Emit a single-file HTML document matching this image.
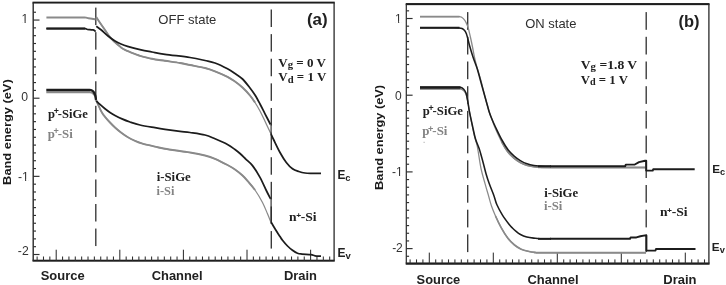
<!DOCTYPE html>
<html><head><meta charset="utf-8"><title>Band energy diagrams</title>
<style>
html,body{margin:0;padding:0;background:#fff;}
body{width:726px;height:285px;overflow:hidden;font-family:"Liberation Sans",sans-serif;}
svg{display:block;filter:grayscale(1) blur(0.4px);}
</style></head><body>
<svg width="726" height="285" viewBox="0 0 726 285">
<rect x="0" y="0" width="726" height="285" fill="#ffffff"/>
<rect x="32.50" y="1.65" width="302.25" height="1.90" fill="#1e1e1e"/>
<rect x="32.50" y="259.70" width="302.25" height="2.00" fill="#1e1e1e"/>
<rect x="32.50" y="2.60" width="1.40" height="258.10" fill="#2a2a2a"/>
<rect x="333.45" y="2.60" width="1.30" height="258.10" fill="#2a2a2a"/>
<rect x="33.20" y="11.66" width="2.80" height="1.15" fill="#303030"/>
<rect x="33.20" y="19.48" width="6.30" height="1.15" fill="#303030"/>
<rect x="33.20" y="27.30" width="2.80" height="1.15" fill="#303030"/>
<rect x="33.20" y="35.11" width="2.80" height="1.15" fill="#303030"/>
<rect x="33.20" y="42.93" width="2.80" height="1.15" fill="#303030"/>
<rect x="33.20" y="50.74" width="2.80" height="1.15" fill="#303030"/>
<rect x="33.20" y="58.55" width="2.80" height="1.15" fill="#303030"/>
<rect x="33.20" y="66.37" width="2.80" height="1.15" fill="#303030"/>
<rect x="33.20" y="74.19" width="2.80" height="1.15" fill="#303030"/>
<rect x="33.20" y="82.00" width="2.80" height="1.15" fill="#303030"/>
<rect x="33.20" y="89.82" width="2.80" height="1.15" fill="#303030"/>
<rect x="33.20" y="97.63" width="6.30" height="1.15" fill="#303030"/>
<rect x="33.20" y="105.45" width="2.80" height="1.15" fill="#303030"/>
<rect x="33.20" y="113.26" width="2.80" height="1.15" fill="#303030"/>
<rect x="33.20" y="121.08" width="2.80" height="1.15" fill="#303030"/>
<rect x="33.20" y="128.89" width="2.80" height="1.15" fill="#303030"/>
<rect x="33.20" y="136.71" width="2.80" height="1.15" fill="#303030"/>
<rect x="33.20" y="144.52" width="2.80" height="1.15" fill="#303030"/>
<rect x="33.20" y="152.34" width="2.80" height="1.15" fill="#303030"/>
<rect x="33.20" y="160.15" width="2.80" height="1.15" fill="#303030"/>
<rect x="33.20" y="167.97" width="2.80" height="1.15" fill="#303030"/>
<rect x="33.20" y="175.78" width="6.30" height="1.15" fill="#303030"/>
<rect x="33.20" y="183.60" width="2.80" height="1.15" fill="#303030"/>
<rect x="33.20" y="191.41" width="2.80" height="1.15" fill="#303030"/>
<rect x="33.20" y="199.23" width="2.80" height="1.15" fill="#303030"/>
<rect x="33.20" y="207.04" width="2.80" height="1.15" fill="#303030"/>
<rect x="33.20" y="214.86" width="2.80" height="1.15" fill="#303030"/>
<rect x="33.20" y="222.67" width="2.80" height="1.15" fill="#303030"/>
<rect x="33.20" y="230.49" width="2.80" height="1.15" fill="#303030"/>
<rect x="33.20" y="238.30" width="2.80" height="1.15" fill="#303030"/>
<rect x="33.20" y="246.12" width="2.80" height="1.15" fill="#303030"/>
<rect x="33.20" y="253.93" width="6.30" height="1.15" fill="#303030"/>
<rect x="36.60" y="256.50" width="1.05" height="4.20" fill="#303030"/>
<rect x="42.96" y="256.50" width="1.05" height="4.20" fill="#303030"/>
<rect x="49.32" y="256.50" width="1.05" height="4.20" fill="#303030"/>
<rect x="55.68" y="249.70" width="1.05" height="11.00" fill="#303030"/>
<rect x="62.04" y="256.50" width="1.05" height="4.20" fill="#303030"/>
<rect x="68.40" y="256.50" width="1.05" height="4.20" fill="#303030"/>
<rect x="74.76" y="256.50" width="1.05" height="4.20" fill="#303030"/>
<rect x="81.12" y="256.50" width="1.05" height="4.20" fill="#303030"/>
<rect x="87.48" y="256.50" width="1.05" height="4.20" fill="#303030"/>
<rect x="93.84" y="256.50" width="1.05" height="4.20" fill="#303030"/>
<rect x="100.20" y="256.50" width="1.05" height="4.20" fill="#303030"/>
<rect x="106.56" y="256.50" width="1.05" height="4.20" fill="#303030"/>
<rect x="112.92" y="256.50" width="1.05" height="4.20" fill="#303030"/>
<rect x="119.28" y="249.70" width="1.05" height="11.00" fill="#303030"/>
<rect x="125.64" y="256.50" width="1.05" height="4.20" fill="#303030"/>
<rect x="132.00" y="256.50" width="1.05" height="4.20" fill="#303030"/>
<rect x="138.36" y="256.50" width="1.05" height="4.20" fill="#303030"/>
<rect x="144.72" y="256.50" width="1.05" height="4.20" fill="#303030"/>
<rect x="151.08" y="256.50" width="1.05" height="4.20" fill="#303030"/>
<rect x="157.44" y="256.50" width="1.05" height="4.20" fill="#303030"/>
<rect x="163.80" y="256.50" width="1.05" height="4.20" fill="#303030"/>
<rect x="170.16" y="256.50" width="1.05" height="4.20" fill="#303030"/>
<rect x="176.52" y="256.50" width="1.05" height="4.20" fill="#303030"/>
<rect x="182.88" y="249.70" width="1.05" height="11.00" fill="#303030"/>
<rect x="189.24" y="256.50" width="1.05" height="4.20" fill="#303030"/>
<rect x="195.60" y="256.50" width="1.05" height="4.20" fill="#303030"/>
<rect x="201.96" y="256.50" width="1.05" height="4.20" fill="#303030"/>
<rect x="208.32" y="256.50" width="1.05" height="4.20" fill="#303030"/>
<rect x="214.68" y="256.50" width="1.05" height="4.20" fill="#303030"/>
<rect x="221.04" y="256.50" width="1.05" height="4.20" fill="#303030"/>
<rect x="227.40" y="256.50" width="1.05" height="4.20" fill="#303030"/>
<rect x="233.76" y="256.50" width="1.05" height="4.20" fill="#303030"/>
<rect x="240.12" y="256.50" width="1.05" height="4.20" fill="#303030"/>
<rect x="246.48" y="249.70" width="1.05" height="11.00" fill="#303030"/>
<rect x="252.84" y="256.50" width="1.05" height="4.20" fill="#303030"/>
<rect x="259.20" y="256.50" width="1.05" height="4.20" fill="#303030"/>
<rect x="265.56" y="256.50" width="1.05" height="4.20" fill="#303030"/>
<rect x="271.92" y="256.50" width="1.05" height="4.20" fill="#303030"/>
<rect x="278.28" y="256.50" width="1.05" height="4.20" fill="#303030"/>
<rect x="284.64" y="256.50" width="1.05" height="4.20" fill="#303030"/>
<rect x="291.00" y="256.50" width="1.05" height="4.20" fill="#303030"/>
<rect x="297.36" y="256.50" width="1.05" height="4.20" fill="#303030"/>
<rect x="303.72" y="256.50" width="1.05" height="4.20" fill="#303030"/>
<rect x="310.08" y="249.70" width="1.05" height="11.00" fill="#303030"/>
<rect x="316.44" y="256.50" width="1.05" height="4.20" fill="#303030"/>
<rect x="322.80" y="256.50" width="1.05" height="4.20" fill="#303030"/>
<rect x="329.16" y="256.50" width="1.05" height="4.20" fill="#303030"/>
<rect x="95.12" y="7.60" width="1.35" height="17.50" fill="#363636"/>
<rect x="95.12" y="32.15" width="1.35" height="17.50" fill="#363636"/>
<rect x="95.12" y="56.70" width="1.35" height="17.50" fill="#363636"/>
<rect x="95.12" y="81.25" width="1.35" height="17.50" fill="#363636"/>
<rect x="95.12" y="105.80" width="1.35" height="17.50" fill="#363636"/>
<rect x="95.12" y="130.35" width="1.35" height="17.50" fill="#363636"/>
<rect x="95.12" y="154.90" width="1.35" height="17.50" fill="#363636"/>
<rect x="95.12" y="179.45" width="1.35" height="17.50" fill="#363636"/>
<rect x="95.12" y="204.00" width="1.35" height="17.50" fill="#363636"/>
<rect x="95.12" y="228.55" width="1.35" height="17.50" fill="#363636"/>
<rect x="270.62" y="9.50" width="1.35" height="17.50" fill="#363636"/>
<rect x="270.62" y="34.12" width="1.35" height="17.50" fill="#363636"/>
<rect x="270.62" y="58.74" width="1.35" height="17.50" fill="#363636"/>
<rect x="270.62" y="83.36" width="1.35" height="17.50" fill="#363636"/>
<rect x="270.62" y="107.98" width="1.35" height="17.50" fill="#363636"/>
<rect x="270.62" y="132.60" width="1.35" height="17.50" fill="#363636"/>
<rect x="270.62" y="157.22" width="1.35" height="17.50" fill="#363636"/>
<rect x="270.62" y="181.84" width="1.35" height="17.50" fill="#363636"/>
<rect x="270.62" y="206.46" width="1.35" height="17.50" fill="#363636"/>
<rect x="270.62" y="231.08" width="1.35" height="17.50" fill="#363636"/>
<path d="M46.40,17.50 C52.00,17.50 73.73,17.50 80.00,17.50 C86.27,17.50 83.00,17.48 84.00,17.50 C85.00,17.52 85.25,17.47 86.00,17.60 C86.75,17.73 87.50,18.12 88.50,18.30 C89.50,18.48 90.82,18.52 92.00,18.70 C93.18,18.88 95.00,19.28 95.60,19.40" fill="none" stroke="#8a8a8a" stroke-width="1.90" stroke-linejoin="round" stroke-linecap="butt" />
<path d="M96.20,17.00 C96.83,17.97 98.53,20.63 100.00,22.80 C101.47,24.97 103.33,27.60 105.00,30.00 C106.67,32.40 108.33,35.15 110.00,37.20 C111.67,39.25 113.33,40.73 115.00,42.30 C116.67,43.87 118.33,45.35 120.00,46.60 C121.67,47.85 122.37,48.52 125.00,49.80 C127.63,51.08 133.30,53.30 135.80,54.30 C138.30,55.30 137.30,55.05 140.00,55.80 C142.70,56.55 147.83,57.97 152.00,58.80 C156.17,59.63 160.33,60.10 165.00,60.80 C169.67,61.50 175.83,62.30 180.00,63.00 C184.17,63.70 185.83,64.17 190.00,65.00 C194.17,65.83 200.83,66.95 205.00,68.00 C209.17,69.05 211.25,69.83 215.00,71.30 C218.75,72.77 224.17,75.10 227.50,76.80 C230.83,78.50 232.50,79.72 235.00,81.50 C237.50,83.28 240.00,85.17 242.50,87.50 C245.00,89.83 247.92,93.00 250.00,95.50 C252.08,98.00 253.33,99.92 255.00,102.50 C256.67,105.08 258.33,107.87 260.00,111.00 C261.67,114.13 263.42,118.00 265.00,121.30 C266.58,124.60 268.50,128.68 269.50,130.80 C270.50,132.92 270.75,133.47 271.00,134.00" fill="none" stroke="#8a8a8a" stroke-width="1.30" stroke-linejoin="round" stroke-linecap="butt" />
<path d="M96.20,17.00 C96.83,17.97 98.53,20.63 100.00,22.80 C101.47,24.97 103.33,27.60 105.00,30.00 C106.67,32.40 108.33,35.15 110.00,37.20 C111.67,39.25 113.33,40.73 115.00,42.30 C116.67,43.87 118.33,45.35 120.00,46.60 C121.67,47.85 122.37,48.52 125.00,49.80 C127.63,51.08 133.30,53.30 135.80,54.30 C138.30,55.30 137.30,55.05 140.00,55.80 C142.70,56.55 147.83,57.97 152.00,58.80 C156.17,59.63 160.33,60.10 165.00,60.80 C169.67,61.50 175.83,62.30 180.00,63.00 C184.17,63.70 185.83,64.17 190.00,65.00 C194.17,65.83 200.83,66.95 205.00,68.00 C209.17,69.05 211.25,69.83 215.00,71.30 C218.75,72.77 224.17,75.10 227.50,76.80 C230.83,78.50 232.50,79.72 235.00,81.50 C237.50,83.28 240.00,85.17 242.50,87.50 C245.00,89.83 247.92,93.00 250.00,95.50 C252.08,98.00 253.33,99.92 255.00,102.50" fill="none" stroke="#8a8a8a" stroke-width="1.90" stroke-linejoin="round" stroke-linecap="butt" />
<path d="M46.40,28.50 C52.00,28.50 73.73,28.50 80.00,28.50 C86.27,28.50 83.08,28.47 84.00,28.50 C84.92,28.53 84.92,28.53 85.50,28.70 C86.08,28.87 86.75,29.33 87.50,29.50 C88.25,29.67 89.08,29.63 90.00,29.70 C90.92,29.77 92.25,29.77 93.00,29.90 C93.75,30.03 94.07,30.22 94.50,30.50 C94.93,30.78 95.42,31.42 95.60,31.60" fill="none" stroke="#1c1c1c" stroke-width="1.75" stroke-linejoin="round" stroke-linecap="butt" />
<path d="M46.40,28.50 L85.00,28.50" fill="none" stroke="#1c1c1c" stroke-width="2.15" stroke-linejoin="round" stroke-linecap="butt" />
<path d="M96.30,26.30 C97.13,26.92 99.35,28.38 101.30,30.00 C103.25,31.62 105.72,34.17 108.00,36.00 C110.28,37.83 112.83,39.67 115.00,41.00 C117.17,42.33 118.92,43.12 121.00,44.00 C123.08,44.88 124.33,45.37 127.50,46.30 C130.67,47.23 135.92,48.65 140.00,49.60 C144.08,50.55 147.83,51.22 152.00,52.00 C156.17,52.78 158.67,53.38 165.00,54.30 C171.33,55.22 183.33,56.47 190.00,57.50 C196.67,58.53 200.83,59.58 205.00,60.50 C209.17,61.42 211.25,61.62 215.00,63.00 C218.75,64.38 224.17,67.05 227.50,68.80 C230.83,70.55 232.50,71.80 235.00,73.50 C237.50,75.20 240.00,76.58 242.50,79.00 C245.00,81.42 247.92,85.33 250.00,88.00 C252.08,90.67 253.33,92.33 255.00,95.00 C256.67,97.67 258.33,100.87 260.00,104.00 C261.67,107.13 263.25,110.38 265.00,113.80 C266.75,117.22 269.58,122.72 270.50,124.50" fill="none" stroke="#1c1c1c" stroke-width="1.75" stroke-linejoin="round" stroke-linecap="butt" />
<path d="M271.10,124.50 L271.10,134.00" fill="none" stroke="#2a2a2a" stroke-width="1.15" stroke-linejoin="round" stroke-linecap="butt" />
<path d="M271.00,134.00 C271.47,135.00 272.30,136.92 273.80,140.00 C275.30,143.08 277.92,148.75 280.00,152.50 C282.08,156.25 284.22,159.78 286.30,162.50 C288.38,165.22 290.42,167.30 292.50,168.80 C294.58,170.30 296.72,170.80 298.80,171.50 C300.88,172.20 302.80,172.70 305.00,173.00 C307.20,173.30 309.33,173.25 312.00,173.30 C314.67,173.35 319.50,173.30 321.00,173.30" fill="none" stroke="#1c1c1c" stroke-width="1.75" stroke-linejoin="round" stroke-linecap="butt" />
<path d="M46.30,92.20 C52.75,92.20 77.72,92.17 85.00,92.20 C92.28,92.23 88.67,92.18 90.00,92.40 C91.33,92.62 92.08,92.73 93.00,93.50 C93.92,94.27 95.00,95.92 95.50,97.00 C96.00,98.08 95.92,99.50 96.00,100.00" fill="none" stroke="#8a8a8a" stroke-width="1.90" stroke-linejoin="round" stroke-linecap="butt" />
<path d="M96.00,100.00 C96.67,101.47 98.92,106.55 100.00,108.80 C101.08,111.05 101.67,112.17 102.50,113.50 C103.33,114.83 103.75,115.30 105.00,116.80 C106.25,118.30 108.33,120.72 110.00,122.50 C111.67,124.28 113.17,125.83 115.00,127.50 C116.83,129.17 118.92,130.92 121.00,132.50 C123.08,134.08 125.17,135.62 127.50,137.00 C129.83,138.38 132.50,139.70 135.00,140.80 C137.50,141.90 139.17,142.63 142.50,143.60 C145.83,144.57 151.25,145.73 155.00,146.60 C158.75,147.47 159.17,147.82 165.00,148.80 C170.83,149.78 183.33,151.38 190.00,152.50 C196.67,153.62 200.83,154.45 205.00,155.50 C209.17,156.55 211.25,157.22 215.00,158.80 C218.75,160.38 224.17,163.22 227.50,165.00 C230.83,166.78 232.50,167.75 235.00,169.50 C237.50,171.25 240.42,173.62 242.50,175.50 C244.58,177.38 245.42,178.38 247.50,180.80 C249.58,183.22 252.50,186.38 255.00,190.00 C257.50,193.62 260.42,198.53 262.50,202.50 C264.58,206.47 266.12,210.55 267.50,213.80 C268.88,217.05 270.25,220.63 270.80,222.00" fill="none" stroke="#8a8a8a" stroke-width="1.25" stroke-linejoin="round" stroke-linecap="butt" />
<path d="M96.00,100.00 C96.67,101.47 98.92,106.55 100.00,108.80 C101.08,111.05 101.67,112.17 102.50,113.50 C103.33,114.83 103.75,115.30 105.00,116.80 C106.25,118.30 108.33,120.72 110.00,122.50 C111.67,124.28 113.17,125.83 115.00,127.50 C116.83,129.17 118.92,130.92 121.00,132.50 C123.08,134.08 125.17,135.62 127.50,137.00 C129.83,138.38 132.50,139.70 135.00,140.80 C137.50,141.90 139.17,142.63 142.50,143.60 C145.83,144.57 151.25,145.73 155.00,146.60 C158.75,147.47 159.17,147.82 165.00,148.80 C170.83,149.78 183.33,151.38 190.00,152.50 C196.67,153.62 200.83,154.45 205.00,155.50 C209.17,156.55 211.25,157.22 215.00,158.80 C218.75,160.38 224.17,163.22 227.50,165.00 C230.83,166.78 232.50,167.75 235.00,169.50 C237.50,171.25 240.42,173.62 242.50,175.50 C244.58,177.38 245.42,178.38 247.50,180.80 C249.58,183.22 252.50,186.38 255.00,190.00" fill="none" stroke="#8a8a8a" stroke-width="1.90" stroke-linejoin="round" stroke-linecap="butt" />
<path d="M46.30,90.00 C52.75,90.00 77.55,89.97 85.00,90.00 C92.45,90.03 89.58,89.90 91.00,90.20 C92.42,90.50 92.78,90.92 93.50,91.80 C94.22,92.68 94.88,94.13 95.30,95.50 C95.72,96.87 95.88,99.25 96.00,100.00" fill="none" stroke="#1c1c1c" stroke-width="2.30" stroke-linejoin="round" stroke-linecap="butt" />
<path d="M96.30,100.80 C96.92,101.40 98.55,103.08 100.00,104.40 C101.45,105.72 103.33,107.37 105.00,108.70 C106.67,110.03 108.33,111.28 110.00,112.40 C111.67,113.52 113.00,114.32 115.00,115.40 C117.00,116.48 119.50,117.80 122.00,118.90 C124.50,120.00 127.00,120.98 130.00,122.00 C133.00,123.02 135.83,124.05 140.00,125.00 C144.17,125.95 150.83,126.98 155.00,127.70 C159.17,128.42 160.83,128.70 165.00,129.30 C169.17,129.90 175.83,130.77 180.00,131.30 C184.17,131.83 185.83,131.88 190.00,132.50 C194.17,133.12 200.83,133.95 205.00,135.00 C209.17,136.05 211.25,137.22 215.00,138.80 C218.75,140.38 224.17,142.72 227.50,144.50 C230.83,146.28 232.92,148.00 235.00,149.50 C237.08,151.00 238.17,151.87 240.00,153.50 C241.83,155.13 243.92,157.28 246.00,159.30 C248.08,161.32 250.17,162.60 252.50,165.60 C254.83,168.60 257.70,173.15 260.00,177.30 C262.30,181.45 264.55,186.92 266.30,190.50 C268.05,194.08 269.80,197.42 270.50,198.80" fill="none" stroke="#1c1c1c" stroke-width="1.75" stroke-linejoin="round" stroke-linecap="butt" />
<path d="M271.10,198.80 L271.10,222.00" fill="none" stroke="#2a2a2a" stroke-width="1.15" stroke-linejoin="round" stroke-linecap="butt" />
<path d="M271.00,222.00 C271.25,222.42 271.83,223.37 272.50,224.50 C273.17,225.63 274.17,227.42 275.00,228.80 C275.83,230.18 276.67,231.52 277.50,232.80 C278.33,234.08 279.17,235.25 280.00,236.50 C280.83,237.75 281.25,238.72 282.50,240.30 C283.75,241.88 285.83,244.33 287.50,246.00 C289.17,247.67 290.83,249.08 292.50,250.30 C294.17,251.52 295.92,252.67 297.50,253.30 C299.08,253.93 299.75,253.87 302.00,254.10 C304.25,254.33 308.83,254.42 311.00,254.70 C313.17,254.98 313.33,255.57 315.00,255.80 C316.67,256.03 320.00,256.05 321.00,256.10" fill="none" stroke="#1c1c1c" stroke-width="1.75" stroke-linejoin="round" stroke-linecap="butt" />
<text x="28.30" y="23.20" font-family="'Liberation Sans', sans-serif" font-size="12.20px" font-weight="normal" fill="#333" text-anchor="end" >1</text>
<rect x="22.11" y="21.84" width="2.47" height="2.11" fill="#fff"/>
<rect x="25.66" y="21.84" width="2.50" height="2.11" fill="#fff"/>
<text x="28.00" y="100.90" font-family="'Liberation Sans', sans-serif" font-size="12.20px" font-weight="normal" fill="#333" text-anchor="end" >0</text>
<text x="28.80" y="180.80" font-family="'Liberation Sans', sans-serif" font-size="12.20px" font-weight="normal" fill="#333" text-anchor="end" >-1</text>
<rect x="22.61" y="179.44" width="2.47" height="2.11" fill="#fff"/>
<rect x="26.16" y="179.44" width="2.50" height="2.11" fill="#fff"/>
<text x="28.70" y="254.90" font-family="'Liberation Sans', sans-serif" font-size="12.20px" font-weight="normal" fill="#333" text-anchor="end" >-2</text>
<text transform="translate(10.7,132.1) rotate(-90)" font-family="'Liberation Sans', sans-serif" font-size="11.6px" font-weight="bold" fill="#1a1a1a" text-anchor="middle" textLength="105.6" lengthAdjust="spacingAndGlyphs">Band energy (eV)</text>
<text x="158.32" y="24.30" font-family="'Liberation Sans', sans-serif" font-size="12.60px" font-weight="normal" fill="#2e2e2e" text-anchor="start"  textLength="58.04" lengthAdjust="spacingAndGlyphs" id="a_off">OFF state</text>
<text x="306.95" y="25.00" font-family="'Liberation Sans', sans-serif" font-size="16.00px" font-weight="bold" fill="#212121" text-anchor="start"  textLength="20.67" lengthAdjust="spacingAndGlyphs" id="a_lab">(a)</text>
<text x="278.34" y="66.70" font-family="'Liberation Serif', serif" font-size="12.20px" font-weight="bold" fill="#212121" text-anchor="start"  textLength="47.61" lengthAdjust="spacingAndGlyphs" id="a_vg">V<tspan font-size="10px" dy="1.2">g</tspan><tspan dy="-1.2"> = 0 V</tspan></text>
<text x="278.34" y="81.40" font-family="'Liberation Serif', serif" font-size="12.20px" font-weight="bold" fill="#212121" text-anchor="start"  textLength="47.90" lengthAdjust="spacingAndGlyphs" id="a_vd">V<tspan font-size="10px" dy="1.2">d</tspan><tspan dy="-1.2"> = 1 V</tspan></text>
<text x="48.00" y="117.50" font-family="'Liberation Serif', serif" font-size="12.20px" font-weight="bold" fill="#212121" text-anchor="start"  textLength="39.94" lengthAdjust="spacingAndGlyphs" id="a_psige">p<tspan font-family="'Liberation Sans', sans-serif" font-weight="bold" font-size="8.5px" dx="-1.3" dy="-3.6">+</tspan><tspan dx="-0.9" dy="3.6">-SiGe</tspan></text>
<text x="47.73" y="137.80" font-family="'Liberation Serif', serif" font-size="12.00px" font-weight="bold" fill="#848484" text-anchor="start"  textLength="25.07" lengthAdjust="spacingAndGlyphs" id="a_psi">p<tspan font-family="'Liberation Sans', sans-serif" font-weight="bold" font-size="8.5px" dx="-1.3" dy="-3.6">+</tspan><tspan dx="-0.9" dy="3.6">-Si</tspan></text>
<text x="156.65" y="181.40" font-family="'Liberation Serif', serif" font-size="12.90px" font-weight="bold" fill="#212121" text-anchor="start"  textLength="34.12" lengthAdjust="spacingAndGlyphs" id="a_isige">i-SiGe</text>
<text x="156.48" y="194.80" font-family="'Liberation Serif', serif" font-size="12.20px" font-weight="bold" fill="#848484" text-anchor="start"  textLength="17.89" lengthAdjust="spacingAndGlyphs" id="a_isi">i-Si</text>
<text x="289.05" y="221.20" font-family="'Liberation Serif', serif" font-size="12.20px" font-weight="bold" fill="#212121" text-anchor="start"  textLength="27.56" lengthAdjust="spacingAndGlyphs" id="a_nsi">n<tspan font-family="'Liberation Sans', sans-serif" font-weight="bold" font-size="7.5px" dx="-0.4" dy="-2.9">+</tspan><tspan dx="-0.3" dy="2.9">-Si</tspan></text>
<text x="337.51" y="178.80" font-family="'Liberation Sans', sans-serif" font-size="12.00px" font-weight="bold" fill="#212121" text-anchor="start"  textLength="13.05" lengthAdjust="spacingAndGlyphs" id="a_ec">E<tspan font-size="9.5px" dy="2.2">c</tspan></text>
<text x="337.49" y="257.20" font-family="'Liberation Sans', sans-serif" font-size="12.00px" font-weight="bold" fill="#212121" text-anchor="start"  textLength="13.33" lengthAdjust="spacingAndGlyphs" id="a_ev">E<tspan font-size="9.5px" dy="2.2">v</tspan></text>
<text x="40.73" y="280.00" font-family="'Liberation Sans', sans-serif" font-size="12.20px" font-weight="bold" fill="#212121" text-anchor="start"  textLength="43.87" lengthAdjust="spacingAndGlyphs" id="a_src">Source</text>
<text x="151.72" y="279.70" font-family="'Liberation Sans', sans-serif" font-size="12.20px" font-weight="bold" fill="#212121" text-anchor="start"  textLength="50.91" lengthAdjust="spacingAndGlyphs" id="a_chn">Channel</text>
<text x="283.95" y="279.70" font-family="'Liberation Sans', sans-serif" font-size="12.20px" font-weight="bold" fill="#212121" text-anchor="start"  textLength="33.00" lengthAdjust="spacingAndGlyphs" id="a_drn">Drain</text>
<rect x="405.70" y="3.05" width="303.85" height="2.10" fill="#1e1e1e"/>
<rect x="405.70" y="262.45" width="303.85" height="2.30" fill="#1e1e1e"/>
<rect x="405.70" y="4.10" width="1.20" height="259.50" fill="#2a2a2a"/>
<rect x="708.25" y="4.10" width="1.30" height="259.50" fill="#2a2a2a"/>
<rect x="406.30" y="10.26" width="2.80" height="1.15" fill="#303030"/>
<rect x="406.30" y="17.93" width="6.30" height="1.15" fill="#303030"/>
<rect x="406.30" y="25.60" width="2.80" height="1.15" fill="#303030"/>
<rect x="406.30" y="33.27" width="2.80" height="1.15" fill="#303030"/>
<rect x="406.30" y="40.94" width="2.80" height="1.15" fill="#303030"/>
<rect x="406.30" y="48.61" width="2.80" height="1.15" fill="#303030"/>
<rect x="406.30" y="56.28" width="2.80" height="1.15" fill="#303030"/>
<rect x="406.30" y="63.95" width="2.80" height="1.15" fill="#303030"/>
<rect x="406.30" y="71.62" width="2.80" height="1.15" fill="#303030"/>
<rect x="406.30" y="79.29" width="2.80" height="1.15" fill="#303030"/>
<rect x="406.30" y="86.96" width="2.80" height="1.15" fill="#303030"/>
<rect x="406.30" y="94.63" width="6.30" height="1.15" fill="#303030"/>
<rect x="406.30" y="102.30" width="2.80" height="1.15" fill="#303030"/>
<rect x="406.30" y="109.97" width="2.80" height="1.15" fill="#303030"/>
<rect x="406.30" y="117.64" width="2.80" height="1.15" fill="#303030"/>
<rect x="406.30" y="125.31" width="2.80" height="1.15" fill="#303030"/>
<rect x="406.30" y="132.98" width="2.80" height="1.15" fill="#303030"/>
<rect x="406.30" y="140.65" width="2.80" height="1.15" fill="#303030"/>
<rect x="406.30" y="148.32" width="2.80" height="1.15" fill="#303030"/>
<rect x="406.30" y="155.99" width="2.80" height="1.15" fill="#303030"/>
<rect x="406.30" y="163.66" width="2.80" height="1.15" fill="#303030"/>
<rect x="406.30" y="171.33" width="6.30" height="1.15" fill="#303030"/>
<rect x="406.30" y="179.00" width="2.80" height="1.15" fill="#303030"/>
<rect x="406.30" y="186.67" width="2.80" height="1.15" fill="#303030"/>
<rect x="406.30" y="194.34" width="2.80" height="1.15" fill="#303030"/>
<rect x="406.30" y="202.01" width="2.80" height="1.15" fill="#303030"/>
<rect x="406.30" y="209.68" width="2.80" height="1.15" fill="#303030"/>
<rect x="406.30" y="217.35" width="2.80" height="1.15" fill="#303030"/>
<rect x="406.30" y="225.02" width="2.80" height="1.15" fill="#303030"/>
<rect x="406.30" y="232.69" width="2.80" height="1.15" fill="#303030"/>
<rect x="406.30" y="240.36" width="2.80" height="1.15" fill="#303030"/>
<rect x="406.30" y="248.03" width="6.30" height="1.15" fill="#303030"/>
<rect x="406.30" y="255.70" width="2.80" height="1.15" fill="#303030"/>
<rect x="409.58" y="259.40" width="1.05" height="4.20" fill="#303030"/>
<rect x="415.98" y="259.40" width="1.05" height="4.20" fill="#303030"/>
<rect x="422.38" y="259.40" width="1.05" height="4.20" fill="#303030"/>
<rect x="428.78" y="252.60" width="1.05" height="11.00" fill="#303030"/>
<rect x="435.18" y="259.40" width="1.05" height="4.20" fill="#303030"/>
<rect x="441.58" y="259.40" width="1.05" height="4.20" fill="#303030"/>
<rect x="447.98" y="259.40" width="1.05" height="4.20" fill="#303030"/>
<rect x="454.38" y="259.40" width="1.05" height="4.20" fill="#303030"/>
<rect x="460.78" y="259.40" width="1.05" height="4.20" fill="#303030"/>
<rect x="467.18" y="259.40" width="1.05" height="4.20" fill="#303030"/>
<rect x="473.58" y="259.40" width="1.05" height="4.20" fill="#303030"/>
<rect x="479.98" y="259.40" width="1.05" height="4.20" fill="#303030"/>
<rect x="486.38" y="259.40" width="1.05" height="4.20" fill="#303030"/>
<rect x="492.78" y="252.60" width="1.05" height="11.00" fill="#303030"/>
<rect x="499.18" y="259.40" width="1.05" height="4.20" fill="#303030"/>
<rect x="505.58" y="259.40" width="1.05" height="4.20" fill="#303030"/>
<rect x="511.98" y="259.40" width="1.05" height="4.20" fill="#303030"/>
<rect x="518.38" y="259.40" width="1.05" height="4.20" fill="#303030"/>
<rect x="524.78" y="259.40" width="1.05" height="4.20" fill="#303030"/>
<rect x="531.18" y="259.40" width="1.05" height="4.20" fill="#303030"/>
<rect x="537.58" y="259.40" width="1.05" height="4.20" fill="#303030"/>
<rect x="543.98" y="259.40" width="1.05" height="4.20" fill="#303030"/>
<rect x="550.38" y="259.40" width="1.05" height="4.20" fill="#303030"/>
<rect x="556.78" y="252.60" width="1.05" height="11.00" fill="#303030"/>
<rect x="563.18" y="259.40" width="1.05" height="4.20" fill="#303030"/>
<rect x="569.58" y="259.40" width="1.05" height="4.20" fill="#303030"/>
<rect x="575.98" y="259.40" width="1.05" height="4.20" fill="#303030"/>
<rect x="582.38" y="259.40" width="1.05" height="4.20" fill="#303030"/>
<rect x="588.78" y="259.40" width="1.05" height="4.20" fill="#303030"/>
<rect x="595.18" y="259.40" width="1.05" height="4.20" fill="#303030"/>
<rect x="601.58" y="259.40" width="1.05" height="4.20" fill="#303030"/>
<rect x="607.98" y="259.40" width="1.05" height="4.20" fill="#303030"/>
<rect x="614.38" y="259.40" width="1.05" height="4.20" fill="#303030"/>
<rect x="620.78" y="252.60" width="1.05" height="11.00" fill="#303030"/>
<rect x="627.18" y="259.40" width="1.05" height="4.20" fill="#303030"/>
<rect x="633.58" y="259.40" width="1.05" height="4.20" fill="#303030"/>
<rect x="639.98" y="259.40" width="1.05" height="4.20" fill="#303030"/>
<rect x="646.38" y="259.40" width="1.05" height="4.20" fill="#303030"/>
<rect x="652.78" y="259.40" width="1.05" height="4.20" fill="#303030"/>
<rect x="659.18" y="259.40" width="1.05" height="4.20" fill="#303030"/>
<rect x="665.58" y="259.40" width="1.05" height="4.20" fill="#303030"/>
<rect x="671.98" y="259.40" width="1.05" height="4.20" fill="#303030"/>
<rect x="678.38" y="259.40" width="1.05" height="4.20" fill="#303030"/>
<rect x="684.78" y="252.60" width="1.05" height="11.00" fill="#303030"/>
<rect x="691.18" y="259.40" width="1.05" height="4.20" fill="#303030"/>
<rect x="697.58" y="259.40" width="1.05" height="4.20" fill="#303030"/>
<rect x="703.98" y="259.40" width="1.05" height="4.20" fill="#303030"/>
<rect x="467.02" y="12.10" width="1.35" height="17.70" fill="#363636"/>
<rect x="467.02" y="36.80" width="1.35" height="17.70" fill="#363636"/>
<rect x="467.02" y="61.50" width="1.35" height="17.70" fill="#363636"/>
<rect x="467.02" y="86.20" width="1.35" height="17.70" fill="#363636"/>
<rect x="467.02" y="110.90" width="1.35" height="17.70" fill="#363636"/>
<rect x="467.02" y="135.60" width="1.35" height="17.70" fill="#363636"/>
<rect x="467.02" y="160.30" width="1.35" height="17.70" fill="#363636"/>
<rect x="467.02" y="185.00" width="1.35" height="17.70" fill="#363636"/>
<rect x="467.02" y="209.70" width="1.35" height="17.70" fill="#363636"/>
<rect x="467.02" y="234.40" width="1.35" height="17.70" fill="#363636"/>
<rect x="645.53" y="12.10" width="1.35" height="17.70" fill="#363636"/>
<rect x="645.53" y="36.80" width="1.35" height="17.70" fill="#363636"/>
<rect x="645.53" y="61.50" width="1.35" height="17.70" fill="#363636"/>
<rect x="645.53" y="86.20" width="1.35" height="17.70" fill="#363636"/>
<rect x="645.53" y="110.90" width="1.35" height="17.70" fill="#363636"/>
<rect x="645.53" y="135.60" width="1.35" height="17.70" fill="#363636"/>
<rect x="645.53" y="160.30" width="1.35" height="17.70" fill="#363636"/>
<rect x="645.53" y="185.00" width="1.35" height="17.70" fill="#363636"/>
<rect x="645.53" y="209.70" width="1.35" height="17.70" fill="#363636"/>
<rect x="645.53" y="234.40" width="1.35" height="17.70" fill="#363636"/>
<path d="M420.00,16.60 C425.00,16.60 443.45,16.58 450.00,16.60 C456.55,16.62 457.30,16.55 459.30,16.70 C461.30,16.85 461.08,16.90 462.00,17.50 C462.92,18.10 464.05,19.30 464.80,20.30 C465.55,21.30 465.93,22.23 466.50,23.50 C467.07,24.77 467.53,25.57 468.20,27.90 C468.87,30.23 469.78,34.32 470.50,37.50 C471.22,40.68 471.87,43.83 472.50,47.00 C473.13,50.17 473.72,53.72 474.30,56.50 C474.88,59.28 475.43,61.48 476.00,63.70 C476.57,65.92 476.85,66.88 477.70,69.80 C478.55,72.72 479.97,77.00 481.10,81.20 C482.23,85.40 483.45,90.95 484.50,95.00 C485.55,99.05 486.58,102.58 487.40,105.50 C488.22,108.42 488.57,109.98 489.40,112.50 C490.23,115.02 491.40,117.92 492.40,120.60 C493.40,123.28 493.88,125.10 495.40,128.60 C496.92,132.10 499.45,137.73 501.50,141.60 C503.55,145.47 505.63,149.03 507.70,151.80 C509.77,154.57 511.80,156.40 513.90,158.20 C516.00,160.00 518.18,161.42 520.30,162.60 C522.42,163.78 524.32,164.60 526.60,165.30 C528.88,166.00 531.77,166.47 534.00,166.80 C536.23,167.13 535.67,167.18 540.00,167.30 C544.33,167.42 542.33,167.47 560.00,167.50 C577.67,167.53 631.67,167.50 646.00,167.50" fill="none" stroke="#8a8a8a" stroke-width="1.30" stroke-linejoin="round" stroke-linecap="butt" />
<path d="M501.50,141.60 C503.55,145.47 505.63,149.03 507.70,151.80 C509.77,154.57 511.80,156.40 513.90,158.20 C516.00,160.00 518.18,161.42 520.30,162.60 C522.42,163.78 524.32,164.60 526.60,165.30 C528.88,166.00 531.77,166.47 534.00,166.80 C536.23,167.13 535.67,167.18 540.00,167.30 C544.33,167.42 542.33,167.47 560.00,167.50 C577.67,167.53 631.67,167.50 646.00,167.50" fill="none" stroke="#8a8a8a" stroke-width="1.60" stroke-linejoin="round" stroke-linecap="butt" />
<path d="M420.00,16.60 L459.50,16.60" fill="none" stroke="#8a8a8a" stroke-width="1.90" stroke-linejoin="round" stroke-linecap="butt" />
<path d="M538.00,167.50 L646.00,167.50" fill="none" stroke="#8a8a8a" stroke-width="1.70" stroke-linejoin="round" stroke-linecap="butt" />
<path d="M420.00,27.80 C425.00,27.80 443.50,27.78 450.00,27.80 C456.50,27.82 457.00,27.78 459.00,27.90 C461.00,28.02 461.03,28.03 462.00,28.50 C462.97,28.97 464.08,29.87 464.80,30.70 C465.52,31.53 465.85,32.37 466.30,33.50 C466.75,34.63 466.95,35.45 467.50,37.50 C468.05,39.55 468.68,42.55 469.60,45.80 C470.52,49.05 471.72,53.13 473.00,57.00 C474.28,60.87 476.03,65.00 477.30,69.00 C478.57,73.00 479.40,76.67 480.60,81.00 C481.80,85.33 483.37,90.92 484.50,95.00 C485.63,99.08 486.58,102.58 487.40,105.50 C488.22,108.42 488.57,110.03 489.40,112.50 C490.23,114.97 491.35,117.80 492.40,120.30 C493.45,122.80 494.12,124.22 495.70,127.50 C497.28,130.78 499.82,136.25 501.90,140.00 C503.98,143.75 506.12,147.28 508.20,150.00 C510.28,152.72 512.32,154.50 514.40,156.30 C516.48,158.10 518.60,159.55 520.70,160.80 C522.80,162.05 524.78,163.02 527.00,163.80 C529.22,164.58 531.83,165.13 534.00,165.50 C536.17,165.87 537.33,165.87 540.00,166.00 C542.67,166.13 548.33,166.25 550.00,166.30" fill="none" stroke="#1c1c1c" stroke-width="1.55" stroke-linejoin="round" stroke-linecap="butt" />
<path d="M550.00,166.30 L625.20,166.30 L625.80,164.60 L634.80,164.50 L639.00,162.10 L645.10,160.70 L646.20,160.70 L646.20,170.60 L652.70,170.50 L653.20,169.30 L694.70,169.30" fill="none" stroke="#1c1c1c" stroke-width="1.95" stroke-linejoin="round" stroke-linecap="butt" />
<path d="M420.00,27.80 L459.50,27.80" fill="none" stroke="#1c1c1c" stroke-width="2.05" stroke-linejoin="round" stroke-linecap="butt" />
<path d="M538.00,166.30 L551.00,166.30" fill="none" stroke="#1c1c1c" stroke-width="1.95" stroke-linejoin="round" stroke-linecap="butt" />
<path d="M420.00,88.90 C425.00,88.90 443.33,88.90 450.00,88.90 C456.67,88.90 457.75,88.62 460.00,88.90 C462.25,89.18 462.50,89.72 463.50,90.60 C464.50,91.48 465.33,92.63 466.00,94.20 C466.67,95.77 467.07,97.95 467.50,100.00 C467.93,102.05 467.93,102.83 468.60,106.50 C469.27,110.17 470.52,117.08 471.50,122.00 C472.48,126.92 473.53,131.92 474.50,136.00 C475.47,140.08 476.22,141.08 477.30,146.50 C478.38,151.92 479.70,162.28 481.00,168.50 C482.30,174.72 483.83,179.22 485.10,183.80 C486.37,188.38 487.53,192.30 488.60,196.00 C489.67,199.70 490.35,202.67 491.50,206.00 C492.65,209.33 493.92,212.45 495.50,216.00 C497.08,219.55 498.97,223.63 501.00,227.30 C503.03,230.97 505.45,235.05 507.70,238.00 C509.95,240.95 512.25,243.13 514.50,245.00 C516.75,246.87 518.92,248.15 521.20,249.20 C523.48,250.25 525.88,250.77 528.20,251.30 C530.52,251.83 532.30,252.17 535.10,252.40 C537.90,252.63 526.52,252.65 545.00,252.70 C563.48,252.75 629.17,252.70 646.00,252.70" fill="none" stroke="#8a8a8a" stroke-width="1.25" stroke-linejoin="round" stroke-linecap="butt" />
<path d="M495.50,216.00 C497.08,219.55 498.97,223.63 501.00,227.30 C503.03,230.97 505.45,235.05 507.70,238.00 C509.95,240.95 512.25,243.13 514.50,245.00 C516.75,246.87 518.92,248.15 521.20,249.20 C523.48,250.25 525.88,250.77 528.20,251.30 C530.52,251.83 532.30,252.17 535.10,252.40 C537.90,252.63 526.52,252.65 545.00,252.70 C563.48,252.75 629.17,252.70 646.00,252.70" fill="none" stroke="#8a8a8a" stroke-width="1.65" stroke-linejoin="round" stroke-linecap="butt" />
<path d="M420.00,88.90 L460.30,88.90" fill="none" stroke="#8a8a8a" stroke-width="1.90" stroke-linejoin="round" stroke-linecap="butt" />
<path d="M536.00,252.60 L646.00,252.60" fill="none" stroke="#8a8a8a" stroke-width="1.75" stroke-linejoin="round" stroke-linecap="butt" />
<path d="M420.00,87.30 C425.00,87.30 443.33,87.30 450.00,87.30 C456.67,87.30 457.75,87.02 460.00,87.30 C462.25,87.58 462.50,88.05 463.50,89.00 C464.50,89.95 465.33,91.20 466.00,93.00 C466.67,94.80 467.07,97.55 467.50,99.80 C467.93,102.05 468.28,104.52 468.60,106.50 C468.92,108.48 468.75,108.45 469.40,111.70 C470.05,114.95 471.48,121.45 472.50,126.00 C473.52,130.55 474.37,135.17 475.50,139.00 C476.63,142.83 478.03,145.08 479.30,149.00 C480.57,152.92 481.97,158.33 483.10,162.50 C484.23,166.67 485.07,170.45 486.10,174.00 C487.13,177.55 487.97,180.10 489.30,183.80 C490.63,187.50 492.85,192.75 494.10,196.20 C495.35,199.65 495.43,201.40 496.80,204.50 C498.17,207.60 500.23,211.47 502.30,214.80 C504.37,218.13 507.52,222.30 509.20,224.50 C510.88,226.70 511.25,226.87 512.40,228.00 C513.55,229.13 514.83,230.27 516.10,231.30 C517.37,232.33 518.22,233.25 520.00,234.20 C521.78,235.15 524.28,236.32 526.80,237.00 C529.32,237.68 532.90,238.02 535.10,238.30 C537.30,238.58 537.52,238.62 540.00,238.70 C542.48,238.78 548.33,238.78 550.00,238.80" fill="none" stroke="#1c1c1c" stroke-width="1.55" stroke-linejoin="round" stroke-linecap="butt" />
<path d="M550.00,238.80 L630.00,238.80 L630.60,237.40 L636.40,237.40 L640.40,236.20 L645.10,235.40 L646.40,235.40 L646.40,250.60 L655.50,250.50 L656.00,249.00 L695.50,249.00" fill="none" stroke="#1c1c1c" stroke-width="1.95" stroke-linejoin="round" stroke-linecap="butt" />
<path d="M420.00,87.50 L460.50,87.50" fill="none" stroke="#1c1c1c" stroke-width="2.40" stroke-linejoin="round" stroke-linecap="butt" />
<path d="M538.00,238.80 L551.00,238.80" fill="none" stroke="#1c1c1c" stroke-width="1.95" stroke-linejoin="round" stroke-linecap="butt" />
<text x="401.80" y="22.50" font-family="'Liberation Sans', sans-serif" font-size="12.00px" font-weight="normal" fill="#333" text-anchor="end" >1</text>
<rect x="395.71" y="21.15" width="2.43" height="2.10" fill="#fff"/>
<rect x="399.20" y="21.15" width="2.46" height="2.10" fill="#fff"/>
<text x="401.70" y="100.00" font-family="'Liberation Sans', sans-serif" font-size="12.00px" font-weight="normal" fill="#333" text-anchor="end" >0</text>
<text x="402.70" y="176.00" font-family="'Liberation Sans', sans-serif" font-size="12.00px" font-weight="normal" fill="#333" text-anchor="end" >-1</text>
<rect x="396.61" y="174.65" width="2.43" height="2.10" fill="#fff"/>
<rect x="400.10" y="174.65" width="2.46" height="2.10" fill="#fff"/>
<text x="402.80" y="251.60" font-family="'Liberation Sans', sans-serif" font-size="12.00px" font-weight="normal" fill="#333" text-anchor="end" >-2</text>
<text transform="translate(383.2,137.4) rotate(-90)" font-family="'Liberation Sans', sans-serif" font-size="11.6px" font-weight="bold" fill="#1a1a1a" text-anchor="middle" textLength="105.0" lengthAdjust="spacingAndGlyphs">Band energy (eV)</text>
<text x="525.23" y="27.50" font-family="'Liberation Sans', sans-serif" font-size="12.60px" font-weight="normal" fill="#2e2e2e" text-anchor="start"  textLength="51.23" lengthAdjust="spacingAndGlyphs" id="b_on">ON state</text>
<text x="678.47" y="26.90" font-family="'Liberation Sans', sans-serif" font-size="16.00px" font-weight="bold" fill="#212121" text-anchor="start"  textLength="20.99" lengthAdjust="spacingAndGlyphs" id="b_lab">(b)</text>
<text x="580.75" y="68.80" font-family="'Liberation Serif', serif" font-size="12.60px" font-weight="bold" fill="#212121" text-anchor="start"  textLength="56.45" lengthAdjust="spacingAndGlyphs" id="b_vg">V<tspan font-size="10px" dy="1.2">g</tspan><tspan dy="-1.2"> =1.8 V</tspan></text>
<text x="580.75" y="83.80" font-family="'Liberation Serif', serif" font-size="12.60px" font-weight="bold" fill="#212121" text-anchor="start"  textLength="47.22" lengthAdjust="spacingAndGlyphs" id="b_vd">V<tspan font-size="10px" dy="1.2">d</tspan><tspan dy="-1.2"> = 1 V</tspan></text>
<text x="422.70" y="114.90" font-family="'Liberation Serif', serif" font-size="12.20px" font-weight="bold" fill="#212121" text-anchor="start"  textLength="40.22" lengthAdjust="spacingAndGlyphs" id="b_psige">p<tspan font-family="'Liberation Sans', sans-serif" font-weight="bold" font-size="8.5px" dx="-1.3" dy="-3.6">+</tspan><tspan dx="-0.9" dy="3.6">-SiGe</tspan></text>
<text x="422.20" y="135.20" font-family="'Liberation Serif', serif" font-size="12.00px" font-weight="bold" fill="#848484" text-anchor="start"  textLength="25.28" lengthAdjust="spacingAndGlyphs" id="b_psi">p<tspan font-family="'Liberation Sans', sans-serif" font-weight="bold" font-size="8.5px" dx="-1.3" dy="-3.6">+</tspan><tspan dx="-0.9" dy="3.6">-Si</tspan></text>
<rect x="423.6" y="141.8" width="1" height="1" fill="#9a9a9a"/>
<text x="544.25" y="196.90" font-family="'Liberation Serif', serif" font-size="12.90px" font-weight="bold" fill="#212121" text-anchor="start"  textLength="33.87" lengthAdjust="spacingAndGlyphs" id="b_isige">i-SiGe</text>
<text x="543.97" y="210.30" font-family="'Liberation Serif', serif" font-size="12.20px" font-weight="bold" fill="#848484" text-anchor="start"  textLength="18.40" lengthAdjust="spacingAndGlyphs" id="b_isi">i-Si</text>
<text x="659.93" y="215.70" font-family="'Liberation Serif', serif" font-size="12.20px" font-weight="bold" fill="#212121" text-anchor="start"  textLength="27.64" lengthAdjust="spacingAndGlyphs" id="b_nsi">n<tspan font-family="'Liberation Sans', sans-serif" font-weight="bold" font-size="7.5px" dx="-0.4" dy="-2.9">+</tspan><tspan dx="-0.3" dy="2.9">-Si</tspan></text>
<text x="712.28" y="172.70" font-family="'Liberation Sans', sans-serif" font-size="11.50px" font-weight="bold" fill="#212121" text-anchor="start"  textLength="12.96" lengthAdjust="spacingAndGlyphs" id="b_ec">E<tspan font-size="9px" dy="2">c</tspan></text>
<text x="711.88" y="251.40" font-family="'Liberation Sans', sans-serif" font-size="11.50px" font-weight="bold" fill="#212121" text-anchor="start"  textLength="12.97" lengthAdjust="spacingAndGlyphs" id="b_ev">E<tspan font-size="9px" dy="2">v</tspan></text>
<text x="416.63" y="283.50" font-family="'Liberation Sans', sans-serif" font-size="12.20px" font-weight="bold" fill="#212121" text-anchor="start"  textLength="43.63" lengthAdjust="spacingAndGlyphs" id="b_src">Source</text>
<text x="527.41" y="283.50" font-family="'Liberation Sans', sans-serif" font-size="12.20px" font-weight="bold" fill="#212121" text-anchor="start"  textLength="51.17" lengthAdjust="spacingAndGlyphs" id="b_chn">Channel</text>
<text x="663.25" y="283.50" font-family="'Liberation Sans', sans-serif" font-size="12.20px" font-weight="bold" fill="#212121" text-anchor="start"  textLength="33.26" lengthAdjust="spacingAndGlyphs" id="b_drn">Drain</text>
</svg>
</body></html>
